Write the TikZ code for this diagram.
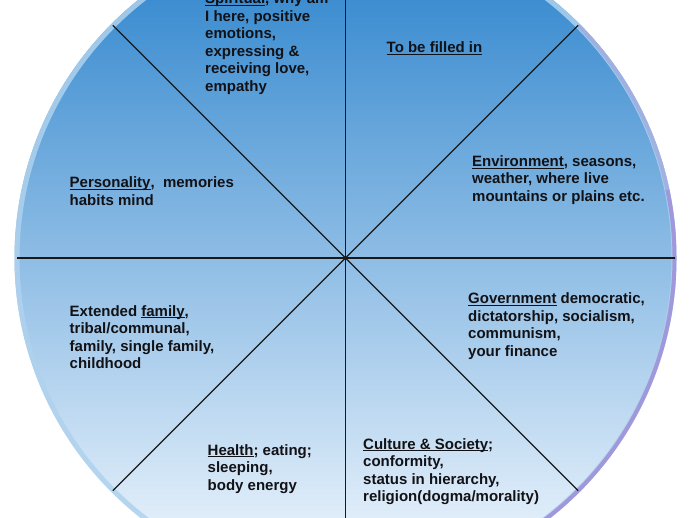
\documentclass[tikz,border=0pt]{standalone}
\usepackage{fontspec}
\usetikzlibrary{calc}
\setmainfont{Liberation Sans}
\definecolor{ctop}{RGB}{38,128,203}
\definecolor{cmid}{RGB}{122,180,226}
\definecolor{cbot}{RGB}{246,250,255}
\definecolor{rimlight}{RGB}{175,210,238}
\definecolor{rimlav}{RGB}{160,152,218}
\definecolor{txt}{RGB}{18,18,22}
\newcommand\ulx[1]{\setbox0\hbox{#1}\rlap{\rule[-2.4pt]{\wd0}{1.2pt}}\copy0\relax}
\begin{document}
\begin{tikzpicture}[x=1pt,y=-1pt,
  lbl/.style={anchor=base west, align=left, inner sep=0pt, text=txt,
    font=\fontsize{15}{17.5}\selectfont\bfseries},
  divline/.style={draw=black!90, line width=1.1pt}]
\useasboundingbox (0,0) rectangle (690,518);
\coordinate (c) at (345.5,258);
\shade[top color=ctop, middle color=cmid, bottom color=cbot] (c) circle (331);
\draw[rimlight, line width=5pt, opacity=0.85] (c) circle (328.5);
\draw[rimlav, line width=4pt, opacity=0.5] (c) ++(-45:329) arc[start angle=-45, end angle=-12, radius=329];
\draw[rimlav, line width=4pt] (c) ++(-12:329) arc[start angle=-12, end angle=100, radius=329];
\foreach \a in {0,45,90,135} {
  \draw[divline] ($(c)+(\a:329)$) -- ($(c)+(\a+180:329)$);
}
% anchor = baseline of the last line of each text
\node[lbl] (spirit) at (205,91.5) {\ulx{Spiritual}, why am\\I here, positive\\emotions,\\expressing \&\\receiving love,\\empathy};
\node[lbl] (fill) at (386.5,52.5) {\ulx{To be filled in}};
\node[lbl] (env) at (472,201.5) {\ulx{Environment}, seasons,\\weather, where live\\mountains or plains etc.};
\node[lbl] (pers) at (69.5,205.5) {\ulx{Personality},\ \ memories\\habits mind};
\node[lbl] (fam) at (69.5,368.5) {Extended \ulx{family},\\tribal/communal,\\family, single family,\\childhood};
\node[lbl] (gov) at (468,356) {\ulx{Government} democratic,\\dictatorship, socialism,\\communism,\\your finance};
\node[lbl] (health) at (207.5,490) {\ulx{Health}; eating;\\sleeping,\\body energy};
\node[lbl] (cult) at (363,501.5) {\ulx{Culture \& Society};\\conformity,\\status in hierarchy,\\religion(dogma/morality)};
\end{tikzpicture}
\end{document}
